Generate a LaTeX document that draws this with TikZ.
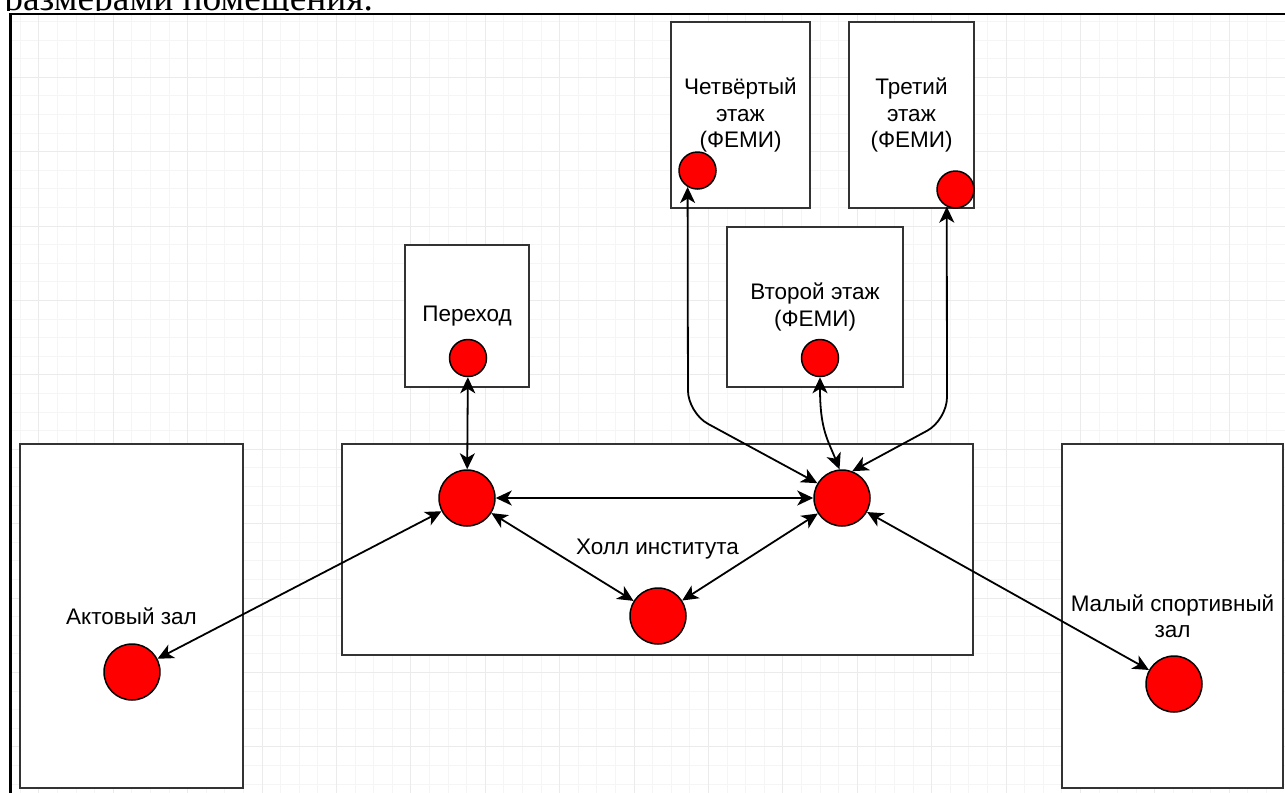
\documentclass[tikz,border=0pt]{standalone}
\usepackage{fontspec}
\setmainfont{Liberation Sans}
\newfontfamily\textserif{Liberation Serif}
\usetikzlibrary{arrows.meta}

\tikzset{
  room/.style={draw=black!80, line width=0.04cm, fill=white, inner sep=0pt, align=center,
    font=\fontsize{12.8}{15}\selectfont},
  spot/.style={circle, draw=black, line width=0.03cm, fill=red, inner sep=0pt, minimum size=0.74cm},
  bigspot/.style={spot, minimum size=1.12cm},
  link/.style={<->, line width=0.036cm},
  gridminor/.style={black!4, line width=0.02cm},
  gridmajor/.style={black!8, line width=0.02cm},
}

\begin{document}
\begin{tikzpicture}[x=0.02cm, y=-0.02cm, >={Stealth[length=0.32cm,width=0.3cm,inset=0.09cm]}]
  \useasboundingbox (0,0) rectangle (1285,792);
  \clip (0,0) rectangle (1285,792);
  % text above the picture, cut off
  \node[anchor=base west, inner sep=0pt, font=\textserif\fontsize{21.3}{25}\selectfont] (cap) at (4,10.5) {размерами помещения.};
  \fill[white] (0,11) rectangle (1300,800);
  % background grid
  \foreach \i in {1,...,69} \draw[gridminor] ({1.7+18.6*\i},14) -- ++(0,800);
  \foreach \j in {1,...,43} \draw[gridminor] (10,{2.9+18.6*\j}) -- ++(1300,0);
  \foreach \i in {0,...,16} \draw[gridmajor] ({38.9+74.4*\i},14) -- ++(0,800);
  \foreach \j in {1,...,10} \draw[gridmajor] (10,{2.9+74.4*\j}) -- ++(1300,0);
  \draw[line width=1.7pt] (10.5,800) -- (10.5,14) -- (1300,14);

  % rooms
  \node[room, minimum width=4.46cm, minimum height=6.88cm] (r1) at (131.5,616) {Актовый зал};
  \node[room, minimum width=12.62cm, minimum height=4.22cm] (r2) at (657.5,549.5) {Холл института};
  \node[room, minimum width=4.42cm, minimum height=6.88cm] (r3) at (1172.5,616) {Малый спортивный\\зал};
  \node[room, minimum width=2.48cm, minimum height=2.84cm] (r4) at (467,316) {Переход};
  \node[room, minimum width=2.78cm, minimum height=3.72cm] (r5) at (740.5,115) {Четвёртый\\этаж\\(ФЕМИ)};
  \node[room, minimum width=2.5cm, minimum height=3.72cm] (r6) at (911.5,115) {Третий\\этаж\\(ФЕМИ)};
  \node[room, minimum width=3.52cm, minimum height=3.2cm] (r7) at (815,307) {Второй этаж\\(ФЕМИ)};

  % points
  \node[spot] (c1) at (468,358) {};
  \node[spot] (c2) at (697.5,170.5) {};
  \node[spot] (c3) at (955.5,189.5) {};
  \node[spot] (c4) at (820,358) {};
  \node[bigspot] (c5) at (467,498) {};
  \node[bigspot] (c6) at (842,498) {};
  \node[bigspot] (c7) at (658,616) {};
  \node[bigspot] (c8) at (132,672) {};
  \node[bigspot] (c9) at (1174,684) {};

  % links
  \draw[link] (c1) edge (c5);
  \draw[link] (c5) edge (c6);
  \draw[link] (c5) edge (c7);
  \draw[link] (c7) edge (c6);
  \draw[link] (c8) edge (c5);
  \draw[link] (c6) edge (c9);
  \draw[link, rounded corners=0.45cm] (c2.239) -- (688,413) -- (c6.149);
  \draw[link, rounded corners=0.45cm] (c3.243) -- (947,420) -- (c6.69);
  \draw[link] (c4.south) .. controls (820,430) and (828,440) .. (c6.95);
\end{tikzpicture}
\end{document}
